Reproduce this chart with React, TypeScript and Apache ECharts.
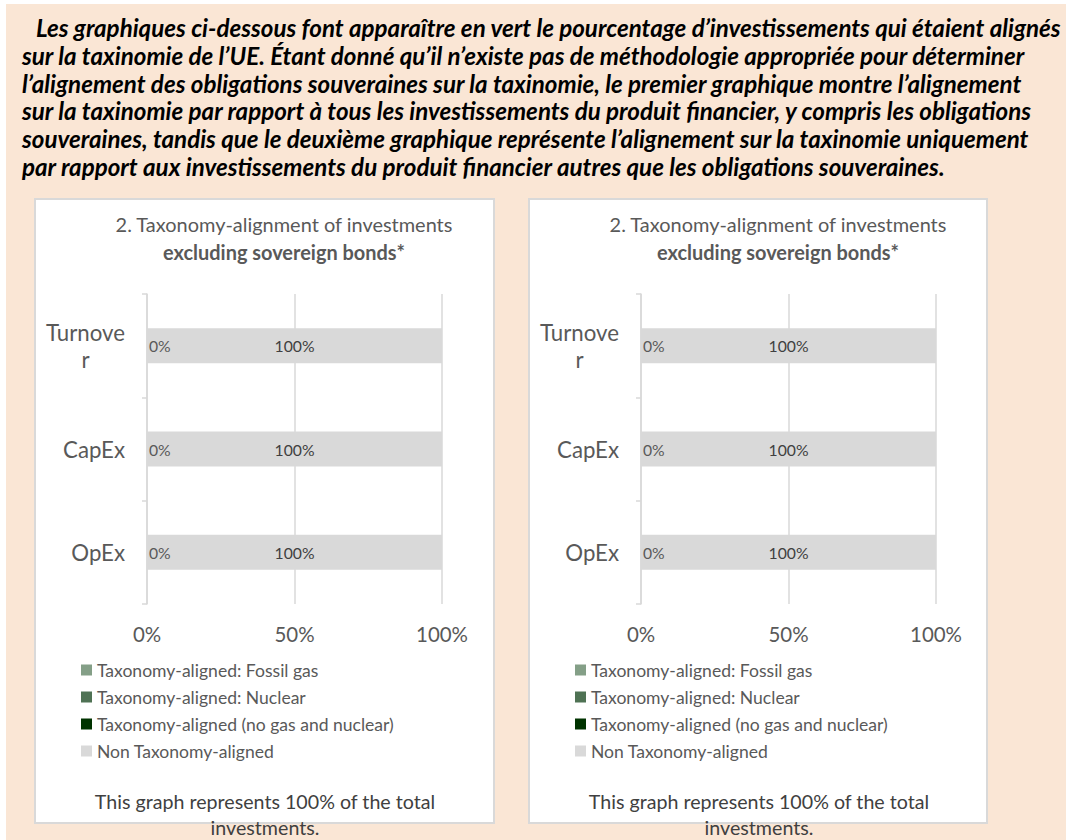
import React, { useEffect, useRef } from 'react';
import * as echarts from 'echarts';

const FONT = 'Lato';

const HEADER_LINES = [
  'Les graphiques ci-dessous font apparaître en vert le pourcentage d’investissements qui étaient alignés',
  'sur la taxinomie de l’UE. Étant donné qu’il n’existe pas de méthodologie appropriée pour déterminer',
  'l’alignement des obligations souveraines sur la taxinomie, le premier graphique montre l’alignement',
  'sur la taxinomie par rapport à tous les investissements du produit financier, y compris les obligations',
  'souveraines, tandis que le deuxième graphique représente l’alignement sur la taxinomie uniquement',
  'par rapport aux investissements du produit financier autres que les obligations souveraines.',
];

const CHART_TITLE = ['2. Taxonomy-alignment of investments', 'excluding sovereign bonds*'];
const CATEGORIES = ['Turnover', 'CapEx', 'OpEx'];
const SERIES_NAMES = [
  'Taxonomy-aligned: Fossil gas',
  'Taxonomy-aligned: Nuclear',
  'Taxonomy-aligned (no gas and nuclear)',
  'Non Taxonomy-aligned',
];
const SERIES_COLORS = ['#849F87', '#4F7254', '#003300', '#D9D9D9'];
const FOSSIL_GAS: (number | null)[] = [null, null, null];
const NUCLEAR: (number | null)[] = [null, null, null];
const ALIGNED_OTHER: (number | null)[] = [0, 0, 0];
const NON_ALIGNED: (number | null)[] = [100, 100, 100];
const X_MIN = 0;
const X_MAX = 100;
const X_STEP = 50;
const FOOTNOTE = ['This graph represents 100% of the total', 'investments.'];
const LABEL_WRAP_CHARS = 7;

function measure(text: string, font: string): number {
  const c = document.createElement('canvas').getContext('2d');
  if (!c) return text.length * 50;
  c.font = font;
  return c.measureText(text).width;
}
function fit(text: string, target: number, weight = 'normal', style = 'normal'): number {
  const base = 100;
  const w = measure(text, `${style} ${weight} ${base}px ${FONT}`);
  return (base * target) / w;
}

export default function App() {
  const ref = useRef<HTMLDivElement>(null);
  useEffect(() => {
    if (!ref.current) return;
    const chart = echarts.init(ref.current, undefined, { renderer: 'svg' });

    const hs =
      (fit(HEADER_LINES[0], 1014, 'bold', 'italic') + fit(HEADER_LINES[3], 1024, 'bold', 'italic')) / 2;
    const ts = fit(CHART_TITLE[0], 338);
    const ys = fit('Turnove', 79);
    const xs = fit('100%', 52);
    const ds = fit('100%', 40);
    const ls = fit(SERIES_NAMES[2], 297);
    const fs = fit(FOOTNOTE[0], 341);

    const panels = [
      { x: 35, w: 459, gridLeft: 147, gridW: 295, titleX: 284, footX: 265, legendX: 81 },
      { x: 529, w: 458, gridLeft: 641, gridW: 295, titleX: 778, footX: 759, legendX: 575 },
    ];

    const graphic: any[] = [
      {
        type: 'rect',
        z: -10,
        silent: true,
        shape: { x: 6, y: 4, width: 1060, height: 836 },
        style: { fill: '#FAE6D5' },
      },
    ];
    HEADER_LINES.forEach((line, i) => {
      graphic.push({
        type: 'text',
        x: i === 0 ? 36 : 22,
        y: 36 + i * 27.8 - 0.35 * hs,
        style: {
          text: line,
          fontFamily: FONT,
          fontSize: hs,
          fontWeight: 'bold',
          fontStyle: 'italic',
          fill: '#000000',
          align: 'left',
          verticalAlign: 'middle',
        },
      });
    });
    panels.forEach((p) => {
      graphic.push({
        type: 'rect',
        z: -9,
        silent: true,
        shape: { x: p.x, y: 199, width: p.w, height: 624 },
        style: { fill: '#FFFFFF', stroke: '#D9D9D9', lineWidth: 2 },
      });
      CHART_TITLE.forEach((t, i) => {
        graphic.push({
          type: 'text',
          x: p.titleX,
          y: 224 + i * 28,
          style: {
            text: t,
            fontFamily: FONT,
            fontSize: ts,
            fontWeight: i === 1 ? 'bold' : 'normal',
            fill: '#595959',
            align: 'center',
            verticalAlign: 'middle',
          },
        });
      });
      FOOTNOTE.forEach((t, i) => {
        graphic.push({
          type: 'text',
          x: p.footX,
          y: 801 + i * 26,
          style: {
            text: t,
            fontFamily: FONT,
            fontSize: fs,
            fill: '#404040',
            align: 'center',
            verticalAlign: 'middle',
          },
        });
      });
    });

    const seriesData = [FOSSIL_GAS, NUCLEAR, ALIGNED_OTHER, NON_ALIGNED];

    const grid = panels.map((p) => ({ left: p.gridLeft, top: 294, width: p.gridW, height: 310 }));
    const xAxis = panels.map((_, gi) => ({
      type: 'value',
      gridIndex: gi,
      min: X_MIN,
      max: X_MAX,
      interval: X_STEP,
      axisLine: { show: false },
      axisTick: { show: false },
      splitLine: { show: true, lineStyle: { color: '#D9D9D9', width: 1.5 } },
      axisLabel: {
        formatter: '{value}%',
        fontFamily: FONT,
        fontSize: xs,
        color: '#595959',
        margin: 20,
      },
    }));
    const yAxis = panels.map((_, gi) => ({
      type: 'category',
      gridIndex: gi,
      data: CATEGORIES,
      inverse: true,
      axisLine: { show: true, lineStyle: { color: '#D9D9D9', width: 1.5 } },
      axisTick: { show: true, length: 5, lineStyle: { color: '#D9D9D9', width: 1.5 } },
      splitLine: { show: false },
      axisLabel: {
        margin: 22,
        align: 'right',
        formatter: (v: string) =>
          v.length > LABEL_WRAP_CHARS
            ? `{c|${v.slice(0, LABEL_WRAP_CHARS)}}\n{c|${v.slice(LABEL_WRAP_CHARS)}}`
            : `{c|${v}}`,
        rich: {
          c: {
            fontFamily: FONT,
            fontSize: ys,
            color: '#595959',
            align: 'center',
            lineHeight: 27,
          },
        },
      },
    }));

    const series: any[] = [];
    panels.forEach((_, gi) => {
      SERIES_NAMES.forEach((name, si) => {
        const isAligned = si === 2;
        const isNon = si === 3;
        series.push({
          type: 'bar',
          name,
          xAxisIndex: gi,
          yAxisIndex: gi,
          stack: 'total' + gi,
          barWidth: 35,
          data: seriesData[si],
          itemStyle: { color: SERIES_COLORS[si] },
          label: {
            show: isAligned || isNon,
            position: isNon ? 'inside' : 'right',
            distance: 2,
            formatter: '{c}%',
            fontFamily: FONT,
            fontSize: ds,
            color: isNon ? '#404040' : '#595959',
          },
          emphasis: { disabled: true },
        });
      });
    });

    const legend = panels.map((p) => ({
      data: SERIES_NAMES,
      orient: 'vertical',
      left: p.legendX,
      top: 661,
      padding: 0,
      itemWidth: 11,
      itemHeight: 11,
      itemGap: 9,
      icon: 'rect',
      selectedMode: false,
      textStyle: { fontFamily: FONT, fontSize: ls, color: '#595959', lineHeight: 16 },
    }));

    chart.setOption({
      animation: false,
      backgroundColor: '#FFFFFF',
      textStyle: { fontFamily: FONT },
      graphic,
      grid,
      xAxis,
      yAxis,
      series,
      legend,
      tooltip: { show: false },
    });

    return () => chart.dispose();
  }, []);

  return (
    <div
      ref={ref}
      style={{ position: 'absolute', left: 0, top: 0, width: 1066, height: 840 }}
    />
  );
}
